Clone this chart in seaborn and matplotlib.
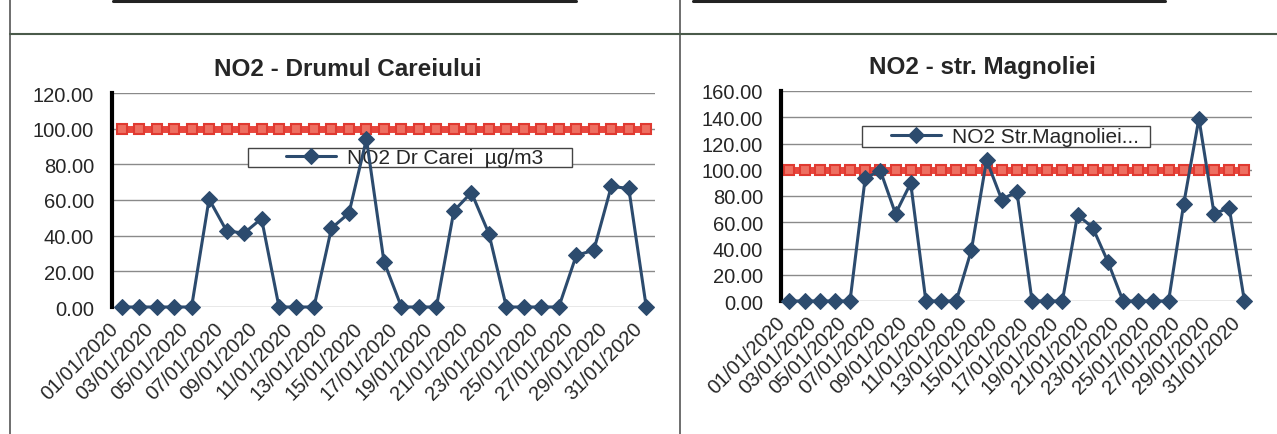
import pandas as pd
import seaborn as sns
import matplotlib.pyplot as plt
from matplotlib.lines import Line2D
from matplotlib.patches import Rectangle
from matplotlib.ticker import FormatStrFormatter, MultipleLocator

# Daily NO2 values, January 2020 (ug/m3)
dates = [d.strftime("%d/%m/%Y") for d in pd.date_range("2020-01-01", "2020-01-31")]
carei = [0, 0, 0, 0, 0, 60.5, 42.7, 41.4, 49.6, 0, 0, 0, 44.2, 52.6, 94.2, 25.5,
         0, 0, 0, 53.9, 64.2, 41.2, 0, 0, 0, 0, 29.0, 31.8, 67.6, 66.5, 0]
magnoliei = [0, 0, 0, 0, 0, 93.6, 99.3, 66.5, 89.8, 0, 0, 0, 38.7, 107.4, 77.3, 83.4,
             0, 0, 0, 65.7, 55.9, 29.9, 0, 0, 0, 0, 74.1, 139.0, 66.5, 71.0, 0]
limit_value = 100.0

titles = ["NO2 - Drumul Careiului", "NO2 - str. Magnoliei"]
legend_labels = ["NO2 Dr Carei  \u00b5g/m3", "NO2 Str.Magnoliei..."]
y_max = [120, 160]

blue = "#2c4b6e"
red = "#e8463d"

sns.set_style("white")
plt.rcParams['font.family'] = ['Liberation Sans', 'DejaVu Sans']

fig = plt.figure(figsize=(12.77, 4.35), dpi=100)
W, H = 1277, 435


def px_axes(x0, y0, x1, y1):
    # pixel box (top-left origin) -> figure axes
    return fig.add_axes([x0 / W, 1 - y1 / H, (x1 - x0) / W, (y1 - y0) / H])


def draw_panel(ax, values, ymax, label, box, text_center):
    df = pd.DataFrame({"day": range(len(dates)), "no2": values,
                       "limit": [limit_value] * len(dates)})
    ax.set_axisbelow(True)
    ax.yaxis.grid(True, color="#8a8a8a", lw=1.0)
    sns.lineplot(data=df, x="day", y="limit", ax=ax, color=red, lw=5,
                 marker="s", markersize=7, markerfacecolor="#ee6f61",
                 markeredgecolor="#e03a31", markeredgewidth=1.5,
                 legend=False, zorder=2)
    sns.lineplot(data=df, x="day", y="no2", ax=ax, color=blue, lw=2.2,
                 marker="D", markersize=8.5, markeredgecolor=blue,
                 label=label, zorder=4, clip_on=False)
    ax.set_xlim(-0.55, len(dates) - 0.5)
    ax.set_ylim(0, ymax)
    ax.yaxis.set_major_locator(MultipleLocator(20))
    ax.yaxis.set_major_formatter(FormatStrFormatter("%.2f"))
    ax.set_xticks(range(0, len(dates), 2))
    ax.set_xticklabels(dates[::2], rotation=45, ha="right")
    ax.tick_params(axis="x", length=0, pad=8, labelsize=14.5)
    ax.tick_params(axis="y", length=0, pad=13, labelsize=14.5)
    ax.set_xlabel("")
    ax.set_ylabel("")
    for s in ["top", "right", "bottom"]:
        ax.spines[s].set_visible(False)
    ax.spines["left"].set_color("black")
    ax.spines["left"].set_linewidth(3)

    # legend box (filled, drawn under the data line)
    x0, y0, x1, y1 = box
    ax.add_patch(Rectangle((x0, y0), x1 - x0, y1 - y0, transform=ax.transAxes,
                           facecolor="white", edgecolor="#444444", lw=1.0,
                           zorder=2.5))
    leg = ax.legend(loc="center", bbox_to_anchor=text_center, frameon=False,
                    fontsize=15, handlelength=2.4, handletextpad=0.5,
                    borderaxespad=0, borderpad=0)
    leg.set_zorder(3)


ax1 = px_axes(112, 94, 655, 308)
draw_panel(ax1, carei, y_max[0], legend_labels[0],
           (0.250, 0.654, 0.847, 0.743), (0.557, 0.699))
ax2 = px_axes(781, 92, 1252, 302)
draw_panel(ax2, magnoliei, y_max[1], legend_labels[1],
           (0.172, 0.733, 0.783, 0.832), (0.497, 0.782))

fig.text(348 / W, 1 - 69 / H, titles[0], ha="center", va="center",
         fontsize=17.5, fontweight="bold")
fig.text(982 / W, 1 - 68 / H, titles[1], ha="center", va="center",
         fontsize=17.5, fontweight="bold")

# scanned page frame lines
def page_line(xs, ys, lw=1.2, color="#555555"):
    fig.add_artist(Line2D([x / W for x in xs], [1 - y / H for y in ys],
                          transform=fig.transFigure, color=color, lw=lw))

page_line([10, 10], [0, 435])
page_line([680, 680], [0, 435])
page_line([10, 1277], [35, 35], lw=1.5, color="#4a5a4a")
page_line([113, 576], [2, 2], lw=2.2, color="#222222")
page_line([693, 1165], [2, 2], lw=2.2, color="#222222")

fig.savefig("out.png", dpi=100, facecolor="white")
